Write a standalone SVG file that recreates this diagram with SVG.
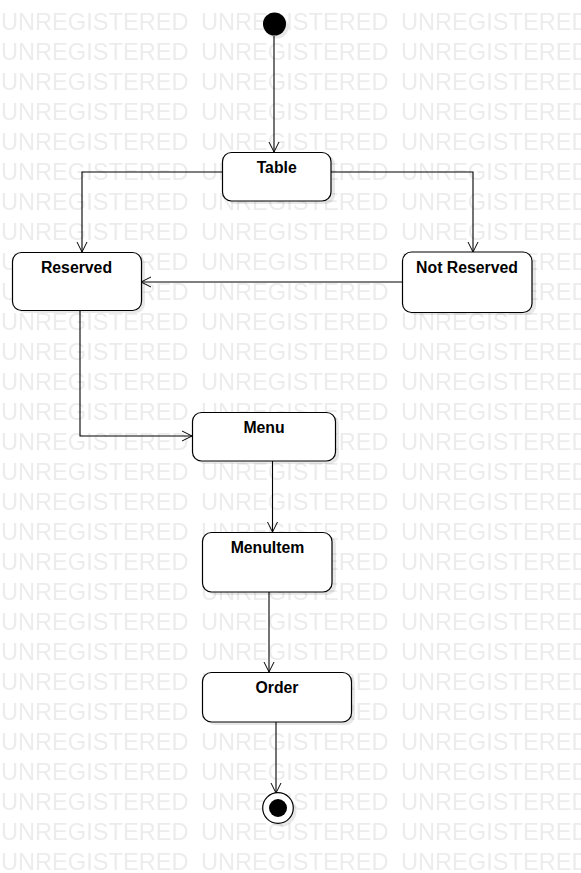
<svg xmlns="http://www.w3.org/2000/svg" width="581" height="873" viewBox="0 0 581 873">
  <defs>
    <pattern id="wm" patternUnits="userSpaceOnUse" x="1" y="1" width="200" height="30">
      <text x="0" y="29" class="wm">UNREGISTERED</text>
    </pattern>
    <marker id="arr" viewBox="0 0 12 12" refX="11" refY="6" markerWidth="12" markerHeight="12" markerUnits="userSpaceOnUse" orient="auto">
      <path d="M1,1 L11,6 L1,11" fill="none" stroke="#000" stroke-width="1"/>
    </marker>
  </defs>
  <style>
    .wm { font-family: "Liberation Sans", Arial, sans-serif; font-size: 23.6px; fill: #ececec; }
    .box { fill: #fff; stroke: #000; stroke-width: 1.2; }
    .shadow { fill: #000; opacity: 0.09; }
    .lbl { font-family: "Liberation Sans", Arial, sans-serif; font-size: 15.8px; font-weight: bold; fill: #000; text-anchor: middle; }
    .edge { fill: none; stroke: #000; stroke-width: 1.1; marker-end: url(#arr); }
  </style>
  <rect width="581" height="873" fill="#fff"/>
  <rect width="581" height="873" fill="url(#wm)"/>

  <g id="connectors">
    <path class="edge" d="M274,36 L274,152"/>
    <path class="edge" d="M222,172 L82,172 L82,252"/>
    <path class="edge" d="M331,172 L473,172 L473,252"/>
    <path class="edge" d="M402,282 L141,282"/>
    <path class="edge" d="M80,310 L80,436 L192,436"/>
    <path class="edge" d="M272.5,461 L272.5,532"/>
    <path class="edge" d="M269,592 L269,672"/>
    <path class="edge" d="M276,722 L276,793"/>
  </g>

  <g id="start">
    <circle cx="277" cy="27" r="11.5" class="shadow"/>
    <circle cx="274.5" cy="24" r="11.5" fill="#000"/>
  </g>

  <g id="table">
    <rect x="226" y="155" width="109" height="49" rx="9" class="shadow"/>
    <rect x="222.5" y="152.5" width="108.5" height="48.5" rx="9" class="box"/>
    <text x="276.7" y="172.7" class="lbl">Table</text>
  </g>

  <g id="reserved">
    <rect x="16" y="255" width="129" height="58" rx="9" class="shadow"/>
    <rect x="12.5" y="252.5" width="129" height="58" rx="9" class="box"/>
    <text x="76.5" y="273" class="lbl">Reserved</text>
  </g>

  <g id="not-reserved">
    <rect x="406" y="255" width="130" height="60" rx="9" class="shadow"/>
    <rect x="402.5" y="252" width="129.5" height="60.5" rx="9" class="box"/>
    <text x="467" y="273" class="lbl">Not Reserved</text>
  </g>

  <g id="menu">
    <rect x="196" y="415" width="143" height="49" rx="9" class="shadow"/>
    <rect x="192.5" y="412.5" width="143" height="48.5" rx="9" class="box"/>
    <text x="264" y="432.7" class="lbl">Menu</text>
  </g>

  <g id="menuitem">
    <rect x="206" y="535" width="130" height="60" rx="9" class="shadow"/>
    <rect x="202.5" y="532.5" width="129.5" height="59.5" rx="9" class="box"/>
    <text x="267.5" y="552.7" class="lbl">MenuItem</text>
  </g>

  <g id="order">
    <rect x="206" y="675" width="149" height="50" rx="9" class="shadow"/>
    <rect x="202.5" y="672.5" width="149" height="49.5" rx="9" class="box"/>
    <text x="277" y="692.7" class="lbl">Order</text>
  </g>

  <g id="end">
    <circle cx="281" cy="811" r="15.5" class="shadow"/>
    <circle cx="278" cy="808" r="15.3" fill="#fff" stroke="#000" stroke-width="1.2"/>
    <circle cx="278" cy="808" r="9" fill="#000"/>
  </g>
</svg>
